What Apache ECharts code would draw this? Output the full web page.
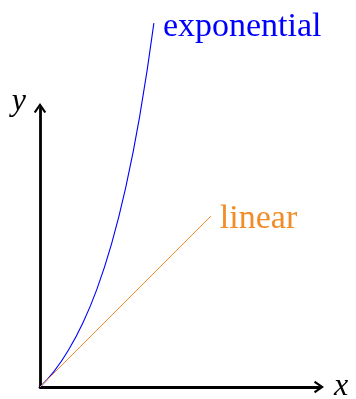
<!DOCTYPE html>
<html>
<head>
<meta charset="utf-8">
<script src="https://cdn.jsdelivr.net/npm/echarts@6/dist/echarts.min.js"></script>
<style>
html, body { margin: 0; padding: 0; background: #fff; }
#main { width: 356px; height: 399px; }
</style>
</head>
<body>
<div id="main"></div>
<script>
// 曲线数据
const expX = [0, 0.25, 0.5, 0.75, 1.0, 1.25, 1.5, 1.75, 2.0];
const expY = [0, 0.28, 0.65, 1.12, 1.72, 2.49, 3.48, 4.75, 6.39];
const linX = [0, 3];
const linY = [0, 3];
const seriesNames = ['exponential', 'linear'];
const axisNames = ['x', 'y'];

const serif = '"Liberation Serif", "DejaVu Serif", serif';
// tikz 风格的开口箭头
const arrowPath = 'path://M0,10 L7,0 L14,10 L11.8,11.2 L7,4 L2.2,11.2 Z';

let chart = echarts.init(document.getElementById('main'));

const pairs = (xs, ys) => xs.map((x, i) => [x, ys[i]]);

const axisBase = {
    type: 'value',
    min: 0,
    max: 4.9,
    axisTick: { show: false },
    axisLabel: { show: false },
    splitLine: { show: false },
    axisLine: {
        show: true,
        symbol: ['none', arrowPath],
        symbolSize: [15, 10],
        lineStyle: { color: '#000', width: 2.8 }
    }
};

const option = {
    animation: false,
    grid: {
        left: 40,
        bottom: 12,
        width: 279,
        height: 279,
        outerBoundsMode: 'none',
        containLabel: false
    },
    xAxis: Object.assign({}, axisBase, {
        name: axisNames[0],
        nameLocation: 'end',
        nameGap: 15,
        nameTextStyle: {
            fontFamily: serif, fontStyle: 'italic', fontSize: 32, color: '#000',
            align: 'left', verticalAlign: 'middle', padding: [0, 0, 6, 0]
        }
    }),
    yAxis: Object.assign({}, axisBase, {
        name: axisNames[1],
        nameLocation: 'end',
        nameGap: 6,
        nameTextStyle: {
            fontFamily: serif, fontStyle: 'italic', fontSize: 32, color: '#000',
            align: 'right', verticalAlign: 'middle', padding: [0, 14, 0, 0]
        }
    }),
    series: [
        {
            name: seriesNames[0],
            type: 'line',
            smooth: true,
            showSymbol: false,
            clip: false,
            data: pairs(expX, expY),
            lineStyle: { color: '#0000ff', width: 1.1 },
            endLabel: {
                show: true,
                formatter: seriesNames[0],
                color: '#0000ff',
                fontFamily: serif,
                fontSize: 34,
                distance: 9,
                offset: [0, 4]
            }
        },
        {
            name: seriesNames[1],
            type: 'line',
            showSymbol: false,
            clip: false,
            data: pairs(linX, linY),
            lineStyle: { color: '#f28c28', width: 1 },
            endLabel: {
                show: true,
                formatter: seriesNames[1],
                color: '#f28c28',
                fontFamily: serif,
                fontSize: 34,
                distance: 9,
                offset: [0, 3]
            }
        }
    ]
};
chart.setOption(option);
</script>
</body>
</html>
